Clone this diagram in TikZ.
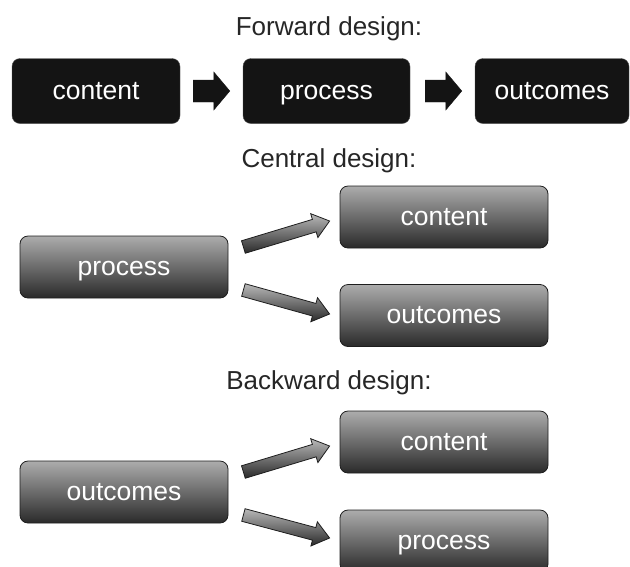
\documentclass[tikz,border=0pt]{standalone}
\usepackage{fontspec}
\setmainfont{Liberation Sans}
\usetikzlibrary{calc}
\definecolor{boxtop}{RGB}{172,172,172}
\definecolor{boxbot}{RGB}{42,42,42}
\definecolor{boxline}{RGB}{30,30,30}
\definecolor{blk}{RGB}{20,20,20}
\tikzset{
  boxtext/.style={text=white, font=\fontsize{26.5}{30}\selectfont, inner sep=0pt,
    text height=18pt, text depth=2pt},
  blackbox/.style={boxtext, draw=gray!60!black, fill=blk, rounded corners=8pt},
  greybox/.style={boxtext, draw=boxline, line width=0.8pt, top color=boxtop, bottom color=boxbot,
    rounded corners=8pt, minimum width=208pt, minimum height=62pt},
  title/.style={font=\fontsize{26}{30}\selectfont, text=black!85, anchor=base},
  blockarrow/.style={draw=boxline, line width=0.8pt, top color=boxtop!85!white, bottom color=boxbot, line join=miter},
  blackarrow/.style={fill=blk, draw=blk}
}
% \barrow{style}{start}{end}{shaft half}{head half}{head length}
\newcommand{\barrow}[6]{%
  \path[#1] let \p1=(#2), \p2=(#3), \n1={atan2(\y2-\y1,\x2-\x1)}, \n2={veclen(\x2-\x1,\y2-\y1)} in
    [shift={(\p1)}, rotate=\n1]
    (0pt,-#4) -- (\n2-#6,-#4) -- (\n2-#6,-#5) -- (\n2,0pt) -- (\n2-#6,#5) -- (\n2-#6,#4) -- (0pt,#4) -- cycle;
}
\begin{document}
\begin{tikzpicture}[x=1pt,y=-1pt]
\useasboundingbox (0,0) rectangle (630,566);
% titles
\node[title] (t1) at (329,35) {Forward design:};
\node[title] (t2) at (329,167) {Central design:};
\node[title] (t3) at (329,389) {Backward design:};
% forward row
\node[blackbox, minimum width=168pt, minimum height=65pt] (c1) at (96,91) {content};
\node[blackbox, minimum width=167pt, minimum height=65pt] (p1) at (326.5,91) {process};
\node[blackbox, minimum width=154pt, minimum height=65pt] (o1) at (552,91) {outcomes};
\coordinate (a1s) at ($(c1.east)+(13,0)$);
\coordinate (a1e) at ($(p1.west)+(-13,0)$);
\coordinate (a2s) at ($(p1.east)+(15,0)$);
\coordinate (a2e) at ($(o1.west)+(-13,0)$);
\barrow{blackarrow}{a1s}{a1e}{11pt}{19pt}{16pt}
\barrow{blackarrow}{a2s}{a2e}{11pt}{19pt}{16pt}
% central
\node[greybox] (p2) at (124,267) {process};
\node[greybox] (c2) at (444,217) {content};
\node[greybox] (o2) at (444,315.5) {outcomes};
\coordinate (b1s) at ($(p2.east)+(15,-20)$);
\coordinate (b1e) at ($(c2.west)+(-10,4)$);
\coordinate (b2s) at ($(p2.east)+(15,23)$);
\coordinate (b2e) at ($(o2.west)+(-10,-1.5)$);
\barrow{blockarrow}{b1s}{b1e}{6.5pt}{12.5pt}{16pt}
\barrow{blockarrow}{b2s}{b2e}{6.5pt}{12.5pt}{16pt}
% backward
\node[greybox] (o3) at (124,492) {outcomes};
\node[greybox] (c3) at (444,442) {content};
\node[greybox] (p3) at (444,541) {process};
\coordinate (d1s) at ($(o3.east)+(15,-20)$);
\coordinate (d1e) at ($(c3.west)+(-10,4)$);
\coordinate (d2s) at ($(o3.east)+(15,23)$);
\coordinate (d2e) at ($(p3.west)+(-10,-3)$);
\barrow{blockarrow}{d1s}{d1e}{6.5pt}{12.5pt}{16pt}
\barrow{blockarrow}{d2s}{d2e}{6.5pt}{12.5pt}{16pt}
\end{tikzpicture}
\end{document}
